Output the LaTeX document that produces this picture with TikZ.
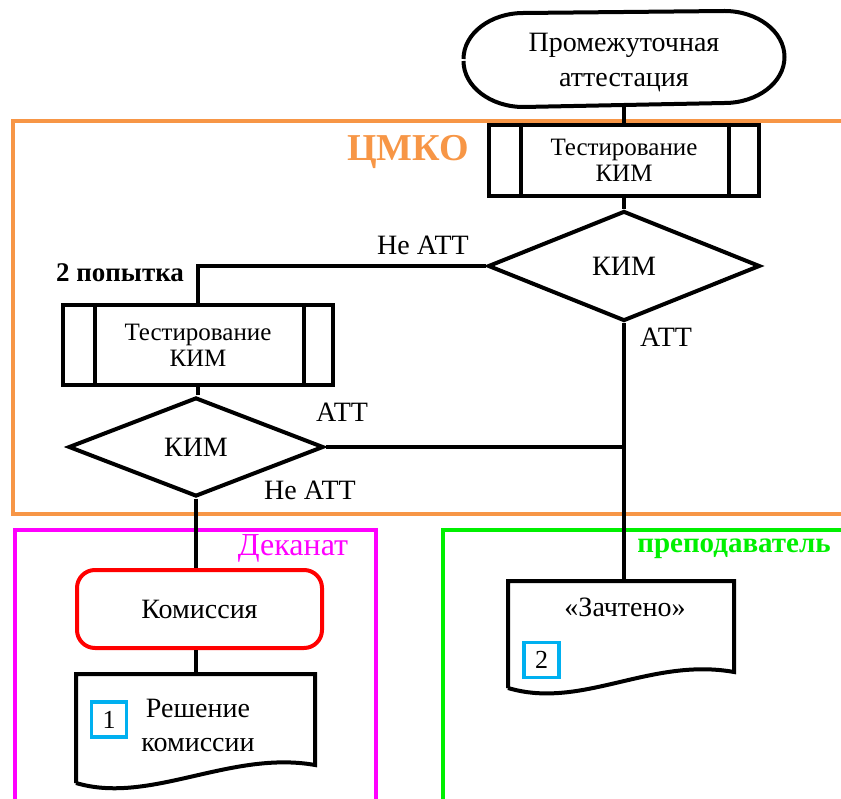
\documentclass[tikz,border=0pt]{standalone}
\usepackage{fontspec}
\setmainfont{Liberation Serif}
\usetikzlibrary{shapes.geometric,calc}
\definecolor{cmko}{RGB}{247,150,70}
\definecolor{dek}{RGB}{255,0,255}
\definecolor{prep}{RGB}{0,240,0}
\definecolor{numc}{RGB}{0,176,240}
\begin{document}
\begin{tikzpicture}[x=1pt,y=-1pt,line width=4pt,
  term/.style={minimum width=317pt, minimum height=92pt, inner sep=0pt},
  proc/.style={draw, minimum width=270pt, align=center, inner sep=0pt, font=\fontsize{25}{26}\selectfont},
  dec/.style={draw, diamond, inner sep=0pt, font=\fontsize{28}{30}\selectfont},
  kombox/.style={draw=red, rounded corners=18pt, minimum width=245pt, minimum height=78pt, inner sep=0pt, font=\fontsize{28}{30}\selectfont},
  txt/.style={inner sep=0pt, font=\fontsize{28}{34}\selectfont, align=center},
  numbox/.style={draw=numc, line width=3.5pt, minimum size=35pt, inner sep=0pt, font=\fontsize{26}{28}\selectfont},
  lbl/.style={inner sep=0pt, font=\fontsize{28}{30}\selectfont},
  frame/.style={line width=4pt}
]
\useasboundingbox (0,0) rectangle (841,799);
% swimlane frames
\draw[frame, cmko] (850,121) -- (13,121) -- (13,514) -- (850,514);
\draw[frame, dek] (15,805) -- (15,530) -- (376,530) -- (376,805);
\draw[frame, prep] (443,805) -- (443,530) -- (850,530);
\node[inner sep=0pt, text=cmko, font=\fontsize{38}{40}\selectfont\bfseries] (tcmko) at (408,152) {ЦМКО};
\node[inner sep=0pt, text=dek, font=\fontsize{32}{34}\selectfont] (tdek) at (293,548) {Деканат};
\node[inner sep=0pt, text=prep, font=\fontsize{29}{31}\selectfont\bfseries] (tprep) at (734,549) {преподаватель};

% terminal (stadium with elliptical ends)
\node[term] (start) at (624,59) {};
\draw[line join=round] (start.west)
  arc[start angle=180, end angle=270, x radius=60, y radius=46]
  -- ($(start.north east)+(-60,0)$)
  arc[start angle=-90, end angle=90, x radius=60, y radius=46]
  -- ($(start.south west)+(60,0)$)
  arc[start angle=90, end angle=180, x radius=60, y radius=46];
\node[txt, font=\fontsize{28}{35}\selectfont] (startt) at (624,62.5) {Промежуточная\\аттестация};

% nodes
\node[proc, minimum height=71pt] (proc1) at (624,160.5) {Тестирование\\КИМ};
\draw ($(proc1.north west)+(34,0)$) -- ($(proc1.south west)+(34,0)$);
\draw ($(proc1.north east)+(-32,0)$) -- ($(proc1.south east)+(-32,0)$);
\node[dec, minimum width=272pt, minimum height=110pt] (dia1) at (624,266) {КИМ};
\node[proc, minimum height=80pt] (proc2) at (198,345) {Тестирование\\КИМ};
\draw ($(proc2.north west)+(34,0)$) -- ($(proc2.south west)+(34,0)$);
\draw ($(proc2.north east)+(-31,0)$) -- ($(proc2.south east)+(-31,0)$);
\node[dec, minimum width=255pt, minimum height=99pt] (dia2) at (196,447) {КИМ};
\node[kombox] (kom) at (199.5,609) {Комиссия};

% documents
\node[minimum width=235pt, minimum height=87pt, inner sep=0pt] (doc1) at (195.5,719.5) {};
\draw ($(doc1.south west)+(0,18)$) -- (doc1.north west) -- (doc1.north east) -- (doc1.south east)
  .. controls (230,750) and (150,805) .. ($(doc1.south west)+(0,18)$);
\node[txt] (doc1t) at (198,725) {Решение\\комиссии};
\node[numbox] (n1) at (109,719.5) {1};

\node[minimum width=222pt, minimum height=87pt, inner sep=0pt] (doc2) at (621,626.5) {};
\draw ($(doc2.south west)+(0,16)$) -- (doc2.north west) -- (doc2.north east) -- (doc2.south east)
  .. controls (650,657) and (582,710) .. ($(doc2.south west)+(0,16)$);
\node[txt] (doc2t) at (625,607) {«Зачтено»};
\node[numbox] (n2) at (541.5,660) {2};

% connectors
\coordinate (j) at (dia1.south |- dia2.east);
\draw (start.south) -- (start.south |- proc1.north);
\draw (proc1.south -| dia1.north) -- (dia1.north);
\draw (dia1.west) -| (proc2.north);
\draw (proc2.south) -- (proc2.south |- dia2.north);
\draw (dia1.south) -- (dia1.south |- doc2.north);
\draw (dia2.east) -- (j);
\draw (dia2.south) -- (dia2.south |- kom.north);
\draw (kom.south -| dia2.south) -- (dia2.south |- doc1.north);

% labels
\node[lbl] (l1) at (423,245) {Не АТТ};
\node[lbl] (l2) at (666,337) {АТТ};
\node[inner sep=0pt, font=\fontsize{27}{29}\selectfont\bfseries] (l3) at (120,273) {2 попытка};
\node[lbl] (l4) at (342,412) {АТТ};
\node[lbl] (l5) at (310,490) {Не АТТ};
\end{tikzpicture}
\end{document}
